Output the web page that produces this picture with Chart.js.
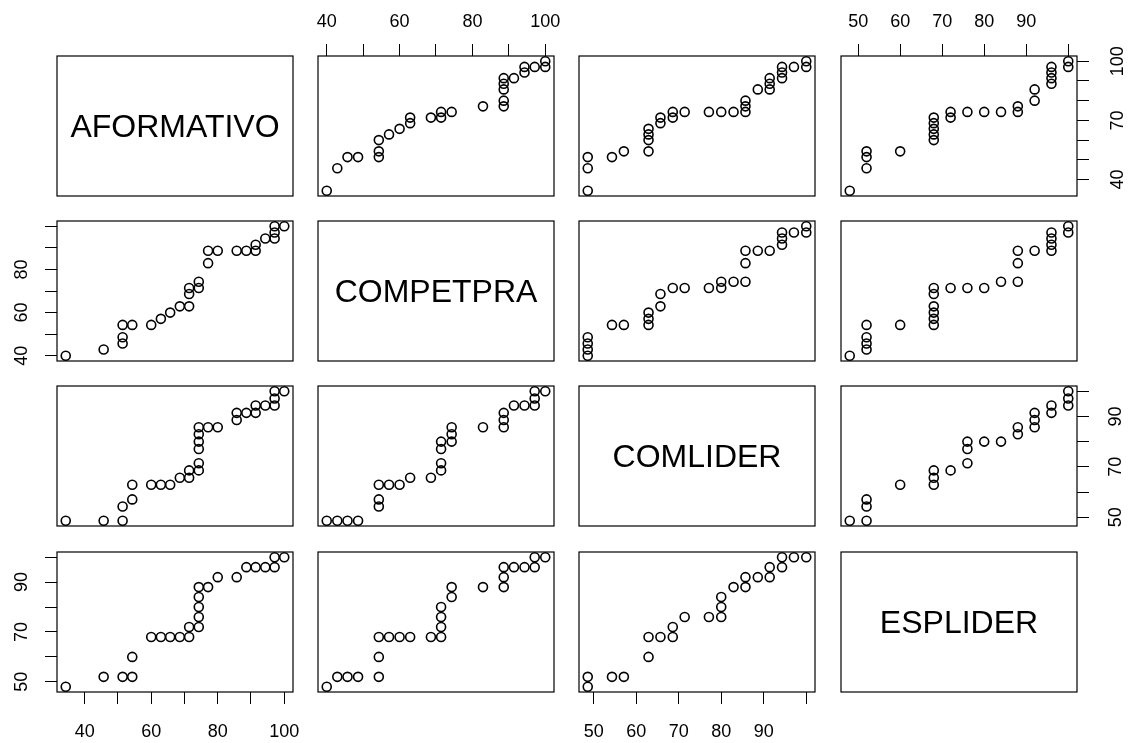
<!DOCTYPE html>
<html>
<head>
<meta charset="utf-8">
<title>pairs</title>
<script src="https://cdn.jsdelivr.net/npm/chart.js@4.4.1/dist/chart.umd.min.js"></script>
<style>
  html, body { margin: 0; padding: 0; background: #fff; overflow: hidden; }
  #stage { position: relative; width: 1128px; height: 743px; }
  #stage canvas { position: absolute; }
</style>
</head>
<body>
<div id="stage"></div>
<script>
/* ── Data ─────────────────────────────────────────────────── */
const varNames = ['AFORMATIVO', 'COMPETPRA', 'COMLIDER', 'ESPLIDER'];

// [AFORMATIVO, COMPETPRA]
const afCp = [[34.3,40],[45.7,42.9],[51.4,45.7],[51.4,48.6],[51.4,54.3],[54.3,54.3],[60,54.3],
  [62.9,57.1],[65.7,60],[68.6,62.9],[71.4,62.9],[71.4,68.6],[71.4,71.4],[74.3,71.4],[74.3,74.3],
  [77.1,82.9],[77.1,88.6],[80,88.6],[85.7,88.6],[88.6,88.6],[91.4,88.6],[91.4,91.4],[94.3,94.3],
  [97.1,94.3],[97.1,97.1],[97.1,100],[100,100]];

// [AFORMATIVO, COMLIDER]
const afCl = [[34.3,48.6],[45.7,48.6],[51.4,48.6],[51.4,54.3],[54.3,57.1],[54.3,62.9],[60,62.9],
  [62.9,62.9],[65.7,62.9],[68.6,65.7],[71.4,65.7],[71.4,68.6],[74.3,68.6],[74.3,71.4],[74.3,77.1],
  [74.3,80],[74.3,82.9],[74.3,85.7],[77.1,85.7],[80,85.7],[85.7,88.6],[85.7,91.4],[88.6,91.4],
  [91.4,91.4],[91.4,94.3],[94.3,94.3],[97.1,94.3],[97.1,97.1],[97.1,100],[100,100]];

// [AFORMATIVO, ESPLIDER]
const afEs = [[34.3,48],[45.7,52],[51.4,52],[54.3,52],[54.3,60],[60,68],[62.9,68],[65.7,68],
  [68.6,68],[71.4,68],[71.4,72],[74.3,72],[74.3,76],[74.3,80],[74.3,84],[74.3,88],[77.1,88],
  [80,92],[85.7,92],[88.6,96],[91.4,96],[94.3,96],[97.1,96],[97.1,100],[100,100]];

// [COMPETPRA, COMLIDER]
const cpCl = [[40,48.6],[42.9,48.6],[45.7,48.6],[48.6,48.6],[54.3,54.3],[54.3,57.1],[54.3,62.9],
  [57.1,62.9],[60,62.9],[62.9,65.7],[68.6,65.7],[71.4,68.6],[71.4,71.4],[71.4,77.1],[71.4,80],
  [74.3,80],[74.3,82.9],[74.3,85.7],[82.9,85.7],[88.6,85.7],[88.6,88.6],[88.6,91.4],[91.4,94.3],
  [94.3,94.3],[97.1,94.3],[97.1,97.1],[97.1,100],[100,100]];

// [COMPETPRA, ESPLIDER]
const cpEs = [[40,48],[42.9,52],[45.7,52],[48.6,52],[54.3,52],[54.3,60],[54.3,68],[57.1,68],
  [60,68],[62.9,68],[68.6,68],[71.4,68],[71.4,72],[71.4,76],[71.4,80],[74.3,84],[74.3,88],
  [82.9,88],[88.6,88],[88.6,92],[88.6,96],[91.4,96],[94.3,96],[97.1,96],[97.1,100],[100,100]];

// [COMLIDER, ESPLIDER]
const clEs = [[48.6,48],[48.6,52],[54.3,52],[57.1,52],[62.9,60],[62.9,68],[65.7,68],[68.6,68],
  [68.6,72],[71.4,76],[77.1,76],[80,76],[80,80],[80,84],[82.9,88],[85.7,88],[85.7,92],[88.6,92],
  [91.4,92],[91.4,96],[94.3,96],[94.3,100],[97.1,100],[100,100]];

// tick marks and the labels R kept on each axis
const tickVals = [
  [40, 50, 60, 70, 80, 90, 100],
  [40, 50, 60, 70, 80, 90, 100],
  [50, 60, 70, 80, 90, 100],
  [50, 60, 70, 80, 90, 100]
];
const xTickLabels = [[40, 60, 80, 100], [40, 60, 80, 100], [50, 60, 70, 80, 90], [50, 60, 70, 80, 90]];
const yTickLabels = [[40, 70, 100], [40, 60, 80], [50, 70, 90], [50, 70, 90]];

/* ── Layout ───────────────────────────────────────────────── */
const M = 50;
const boxLeft = [57, 318, 579, 841];
const boxTop  = [56, 221, 386, 552];
const boxW = 236, boxH = 140;
const FONT = "'Liberation Sans', Arial, Helvetica, sans-serif";

const pairs = { '0-1': afCp, '0-2': afCl, '0-3': afEs, '1-2': cpCl, '1-3': cpEs, '2-3': clEs };

// data range of each variable, from every pair it appears in
const ranges = varNames.map((_, v) => {
  const vals = [];
  Object.keys(pairs).forEach(k => {
    const [i, j] = k.split('-').map(Number);
    if (i === v) pairs[k].forEach(p => vals.push(p[0]));
    if (j === v) pairs[k].forEach(p => vals.push(p[1]));
  });
  return [Math.min(...vals), Math.max(...vals)];
});

function panelPoints(r, c) {
  if (r < c) return pairs[r + '-' + c].map(p => ({ x: p[1], y: p[0] }));
  return pairs[c + '-' + r].map(p => ({ x: p[0], y: p[1] }));
}

function axisOpts(v, pos, show, labels, horiz, pad) {
  const [lo, hi] = ranges[v];
  const ext = 0.04 * (hi - lo);
  return {
    type: 'linear',
    position: pos,
    display: show,
    min: lo - ext,
    max: hi + ext,
    afterBuildTicks: s => { s.ticks = tickVals[v].map(t => ({ value: t })); },
    afterFit: s => { if (!show) return; if (horiz) s.height = M; else s.width = M; },
    border: { display: false },
    grid: { display: true, drawOnChartArea: false, drawTicks: true, tickLength: 12, color: '#000', lineWidth: 1 },
    ticks: {
      autoSkip: false,
      color: '#000',
      padding: pad,
      font: { family: FONT, size: 18 },
      minRotation: horiz ? 0 : 90,
      maxRotation: horiz ? 0 : 90,
      crossAlign: horiz ? 'near' : 'center',
      callback: val => labels.includes(val) ? String(val) : ''
    }
  };
}

function boxPlugin(label) {
  return {
    id: 'panelBox',
    afterDraw(chart) {
      const { ctx, chartArea: a } = chart;
      ctx.save();
      ctx.strokeStyle = '#000';
      ctx.lineWidth = 1.2;
      ctx.strokeRect(a.left, a.top, a.right - a.left, a.bottom - a.top);
      if (label) {
        ctx.fillStyle = '#000';
        ctx.font = '32px ' + FONT;
        ctx.textAlign = 'center';
        ctx.textBaseline = 'middle';
        ctx.fillText(label, (a.left + a.right) / 2, (a.top + a.bottom) / 2 + 2);
      }
      ctx.restore();
    }
  };
}

/* ── Panels ───────────────────────────────────────────────── */
const stage = document.getElementById('stage');

function makePanel(r, c) {
  const cv = document.createElement('canvas');
  cv.width = boxW + 2 * M;
  cv.height = boxH + 2 * M;
  cv.style.left = (boxLeft[c] - M) + 'px';
  cv.style.top = (boxTop[r] - M) + 'px';
  stage.appendChild(cv);

  const diag = r === c;
  const hasTop = !diag && r === 0 && c % 2 === 1;
  const hasBottom = !diag && r === 3 && c % 2 === 0;
  const hasLeft = !diag && c === 0 && r % 2 === 1;
  const hasRight = !diag && c === 3 && r % 2 === 0;

  // label padding per side, tuned to R's axis spacing
  const xPad = hasTop ? 11 : 17;
  const yPad = hasLeft ? 13 : (r === 0 ? 14 : 17);

  new Chart(cv, {
    type: 'scatter',
    data: {
      datasets: diag ? [] : [{
        data: panelPoints(r, c),
        pointStyle: 'circle',
        pointRadius: 4.5,
        pointBorderWidth: 1.6,
        borderColor: '#000',
        backgroundColor: 'rgba(0,0,0,0)',
        clip: false
      }]
    },
    options: {
      responsive: false,
      animation: false,
      events: [],
      layout: {
        padding: {
          top: hasTop ? 0 : M,
          bottom: hasBottom ? 0 : M,
          left: hasLeft ? 0 : M,
          right: hasRight ? 0 : M
        }
      },
      plugins: { legend: { display: false }, tooltip: { enabled: false } },
      scales: {
        x: axisOpts(c, hasTop ? 'top' : 'bottom', hasTop || hasBottom, xTickLabels[c], true, xPad),
        y: axisOpts(r, hasLeft ? 'left' : 'right', hasLeft || hasRight, yTickLabels[r], false, yPad)
      }
    },
    plugins: [boxPlugin(diag ? varNames[r] : null)]
  });
}

for (let r = 0; r < 4; r++) {
  for (let c = 0; c < 4; c++) makePanel(r, c);
}
</script>
</body>
</html>
